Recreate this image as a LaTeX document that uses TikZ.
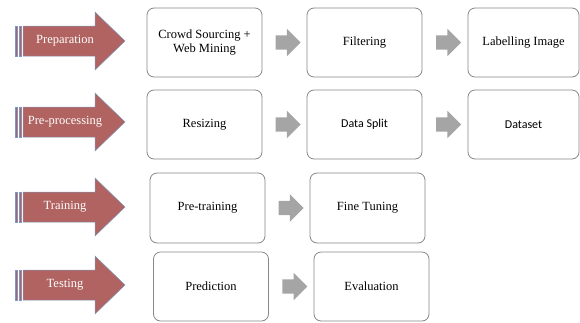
\documentclass[tikz,border=0pt]{standalone}
\usepackage{fontspec}
\setmainfont{Liberation Serif}
\newfontfamily\carlito{Carlito}
\usetikzlibrary{shapes.arrows,calc}
\definecolor{stagered}{RGB}{176,99,96}
\definecolor{stageedge}{RGB}{128,152,192}
\definecolor{boxedge}{RGB}{135,135,135}
\definecolor{flowgray}{RGB}{165,165,165}
\begin{document}
\begin{tikzpicture}[x=1pt, y=-1pt,
        stepbox/.style={draw=boxedge, line width=0.8pt, rounded corners=7pt, fill=white,
            minimum width=115pt, minimum height=69pt, align=center,
            font=\fontsize{12.5}{14}\selectfont},
        stagearrow/.style={fill=stagered, draw=stageedge, line width=0.5pt},
        stagetext/.style={text=white, font=\fontsize{12.5}{14}\selectfont},
        flowarrow/.style={single arrow, fill=flowgray, inner xsep=0pt, inner ysep=7pt,
            minimum height=25pt, single arrow head extend=6.5pt}]
        \useasboundingbox (0, 0) rectangle (580, 322);

        % stages
        \draw[stagearrow] (15, 26) rectangle (17, 56);
        \draw[stagearrow] (19, 26) rectangle (21, 56);
        \draw[stagearrow] (23, 26) -- (95, 26) -- (95, 12) -- (125, 41) -- (95, 70) -- (95, 56) -- (23, 56) -- cycle;
        \node[stagetext] (prep) at (65, 41) {Preparation};

        \draw[stagearrow] (15, 107) rectangle (17, 137);
        \draw[stagearrow] (19, 107) rectangle (21, 137);
        \draw[stagearrow] (23, 107) -- (95, 107) -- (95, 93) -- (125, 122) -- (95, 151) -- (95, 137) -- (23, 137) -- cycle;
        \node[stagetext] (preproc) at (65, 122) {Pre-processing};

        \draw[stagearrow] (15, 192) rectangle (17, 222);
        \draw[stagearrow] (19, 192) rectangle (21, 222);
        \draw[stagearrow] (23, 192) -- (95, 192) -- (95, 178) -- (125, 207) -- (95, 236) -- (95, 222) -- (23, 222) -- cycle;
        \node[stagetext] (train) at (65, 207) {Training};

        \draw[stagearrow] (15, 270) rectangle (17, 300);
        \draw[stagearrow] (19, 270) rectangle (21, 300);
        \draw[stagearrow] (23, 270) -- (95, 270) -- (95, 256) -- (125, 285) -- (95, 314) -- (95, 300) -- (23, 300) -- cycle;
        \node[stagetext] (test) at (65, 285) {Testing};

        % steps
        \node[stepbox] (crowd) at (204.5, 42.5) {Crowd Sourcing +\\Web Mining};
        \node[stepbox] (filter) at (364.5, 42.5) {Filtering};
        \node[stepbox, minimum width=111pt] (label) at (523.5, 42.5) {Labelling Image};

        \node[stepbox] (resize) at (204.5, 124.5) {Resizing};
        \node[stepbox, font=\carlito\fontsize{12}{14}\selectfont] (split) at (364.5, 124.5) {Data Split};
        \node[stepbox, minimum width=111pt, font=\carlito\fontsize{12}{14}\selectfont] (data) at (523.5, 124.5) {Dataset};

        \node[stepbox, minimum height=70pt] (pretrain) at (207.5, 208) {Pre-training};
        \node[stepbox, minimum height=70pt] (tune) at (367.5, 208) {Fine Tuning};

        \node[stepbox] (predict) at (211, 286.5) {Prediction};
        \node[stepbox] (eval) at (371.5, 286.5) {Evaluation};

        % flow
        \node[flowarrow] at ($(crowd.east)!0.5!(filter.west)$) {};
        \node[flowarrow] at ($(filter.east)!0.5!(label.west)$) {};
        \node[flowarrow] at ($(resize.east)!0.5!(split.west)$) {};
        \node[flowarrow] at ($(split.east)!0.5!(data.west)$) {};
        \node[flowarrow] at ($(pretrain.east)!0.5!(tune.west)$) {};
        \node[flowarrow] at ($(predict.east)!0.5!(eval.west)$) {};
    \end{tikzpicture}
\end{document}
